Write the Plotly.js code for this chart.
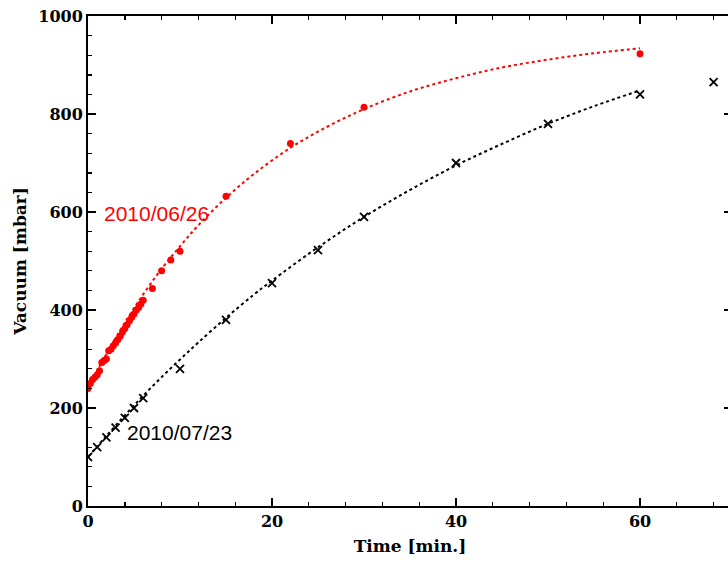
<!DOCTYPE html>
<html>
<head>
<meta charset="utf-8">
<script src="https://cdn.plot.ly/plotly-3.0.1.min.js"></script>
<style>
html, body { margin: 0; padding: 0; overflow: hidden; background: #fff; width: 728px; height: 563px; }
#chart { width: 736px; height: 563px; }
</style>
</head>
<body>
<div id="chart"></div>
<script>
// Red series: 2010/06/26 measured points
var redTime = [0, 0.25, 0.5, 0.75, 1, 1.25, 1.5, 1.75, 2, 2.25, 2.5, 2.75, 3, 3.25, 3.5, 3.75, 4, 4.25, 4.5, 4.75, 5, 5.25, 5.5, 5.75, 6, 7, 8, 9, 10, 15, 22, 30, 60];
var redVacuum = [240, 250, 258, 263, 268, 276, 293, 297, 300, 317, 320, 327, 333, 340, 347, 355, 362, 370, 378, 385, 392, 400, 405, 412, 420, 444, 480, 502, 520, 632, 740, 814, 923];
// Red fitted curve
var redFitTime = [0, 2, 4, 6, 8, 10, 12, 15, 18, 22, 26, 30, 35, 40, 45, 50, 55, 60];
var redFitVacuum = [240, 310, 374, 432, 484, 530, 573, 629, 677, 731, 774, 810, 846, 873, 895, 911, 924, 934];

// Black series: 2010/07/23 measured points
var blackTime = [0, 1, 2, 3, 4, 5, 6, 10, 15, 20, 25, 30, 40, 50, 60, 68];
var blackVacuum = [100, 120, 140, 160, 180, 200, 220, 280, 380, 455, 522, 590, 700, 780, 840, 865];
// Black fitted curve
var blackFitTime = [0, 2, 4, 6, 8, 10, 12, 15, 18, 20, 25, 30, 35, 40, 45, 50, 55, 60];
var blackFitVacuum = [100, 143, 185, 225, 263, 299, 334, 384, 431, 460, 528, 590, 645, 695, 739, 780, 816, 848];

var labelRed = '2010/06/26';
var labelBlack = '2010/07/23';
var xTitle = 'Time [min.]';
var yTitle = 'Vacuum [mbar]';

var red = 'rgb(255,0,0)';
var tickFont = {family: 'DejaVu Serif', size: 16, color: '#000', weight: 'bold'};
var titleFont = {family: 'DejaVu Serif', size: 17, color: '#000', weight: 'bold'};

var traces = [
  {x: redFitTime, y: redFitVacuum, mode: 'lines', line: {color: red, width: 2, dash: 'dot', shape: 'spline'}, hoverinfo: 'skip'},
  {x: blackFitTime, y: blackFitVacuum, mode: 'lines', line: {color: '#000', width: 2, dash: 'dot', shape: 'spline'}, hoverinfo: 'skip'},
  {x: redTime, y: redVacuum, mode: 'markers', marker: {symbol: 'circle', size: 7, color: red}},
  {x: blackTime, y: blackVacuum, mode: 'markers', marker: {symbol: 'x-thin-open', size: 8, color: '#000', line: {color: '#000', width: 1.8}}}
];

var axisCommon = {
  showgrid: false, zeroline: false, showline: true, linecolor: '#000', linewidth: 2,
  mirror: 'allticks', ticks: 'inside', ticklen: 8, tickwidth: 1.6, tickcolor: '#000',
  tickfont: tickFont
};

var layout = {
  width: 736, height: 563,
  margin: {l: 88, r: 4, t: 16, b: 57},
  paper_bgcolor: '#fff', plot_bgcolor: '#fff',
  showlegend: false,
  xaxis: Object.assign({}, axisCommon, {
    range: [0, 70], dtick: 20, tick0: 0,
    minor: {dtick: 4, ticks: 'inside', ticklen: 4, tickwidth: 1.4, tickcolor: '#000'},
    title: {text: xTitle, font: titleFont, standoff: 10}
  }),
  yaxis: Object.assign({}, axisCommon, {
    range: [0, 1000], dtick: 200, tick0: 0,
    minor: {dtick: 40, ticks: 'inside', ticklen: 4, tickwidth: 1.4, tickcolor: '#000'},
    title: {text: yTitle, font: titleFont, standoff: 7}
  }),
  annotations: [
    {x: 1.5, y: 597, xref: 'x', yref: 'y', text: labelRed, showarrow: false, xanchor: 'left', yanchor: 'middle',
     font: {family: 'Liberation Sans', size: 21, color: red}},
    {x: 4.0, y: 149, xref: 'x', yref: 'y', text: labelBlack, showarrow: false, xanchor: 'left', yanchor: 'middle',
     font: {family: 'Liberation Sans', size: 21, color: '#000'}}
  ]
};

Plotly.newPlot('chart', traces, layout, {displayModeBar: false, staticPlot: true});
</script>
</body>
</html>
